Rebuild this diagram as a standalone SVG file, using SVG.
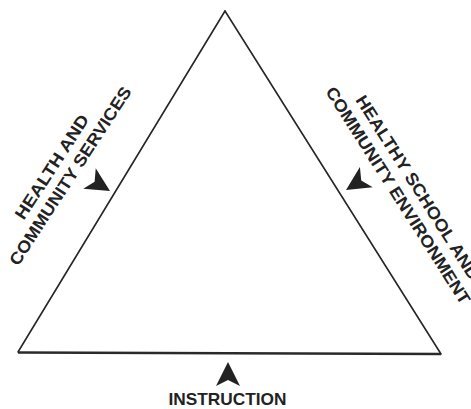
<svg xmlns="http://www.w3.org/2000/svg" width="471" height="409" viewBox="0 0 471 409">
<style>
.edge{stroke:#262626;stroke-width:1.6;fill:none;stroke-linecap:round}
.base{stroke:#2a2a2a;stroke-width:2.6;fill:none}
.lbl{font-family:"Liberation Sans",Arial,sans-serif;font-weight:bold;font-size:17px;fill:#222}
.ah{fill:#222}
</style>
<defs>
<path id="arrow" d="M0,0 L-24,-12 L-18,0 L-24,12 Z"/>
</defs>
<rect width="471" height="409" fill="#fff"/>
<g id="triangle">
<line class="edge" x1="225" y1="11" x2="18" y2="352"/>
<line class="edge" x1="225" y1="11" x2="441" y2="354"/>
<line class="base" x1="18" y1="352.5" x2="441" y2="354"/>
</g>
<g id="connectors">
<use href="#arrow" class="ah" transform="translate(110,191) rotate(31.3)"/>
<use href="#arrow" class="ah" transform="translate(346,190) rotate(147.8)"/>
<use href="#arrow" class="ah" transform="translate(228,362) rotate(-90)"/>
</g>
<g id="label-health-services">
<text class="lbl" text-anchor="middle" textLength="121" lengthAdjust="spacingAndGlyphs" transform="translate(56.8,170) rotate(-57)">HEALTH AND</text>
<text class="lbl" text-anchor="middle" textLength="209" lengthAdjust="spacingAndGlyphs" transform="translate(75.1,179.1) rotate(-57)">COMMUNITY SERVICES</text>
</g>
<g id="label-healthy-school">
<text class="lbl" textLength="215" lengthAdjust="spacingAndGlyphs" transform="translate(355,100) rotate(57.5)">HEALTHY SCHOOL AND</text>
<text class="lbl" textLength="254" lengthAdjust="spacingAndGlyphs" transform="translate(324.9,91.5) rotate(57.5)">COMMUNITY ENVIRONMENT</text>
</g>
<g id="label-instruction">
<text class="lbl" x="227.5" y="405" text-anchor="middle" textLength="118" lengthAdjust="spacingAndGlyphs">INSTRUCTION</text>
</g>
</svg>
